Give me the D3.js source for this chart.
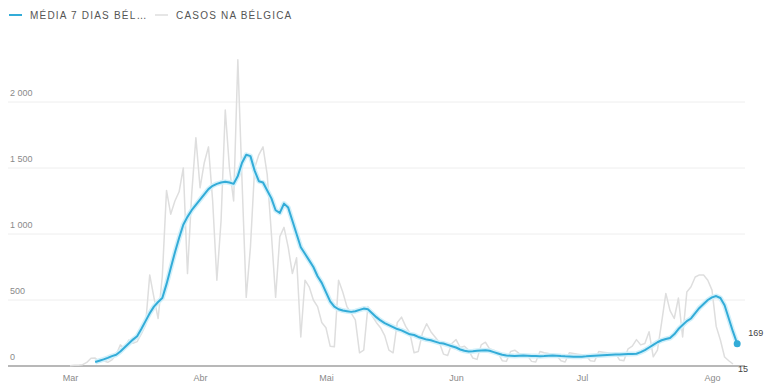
<!DOCTYPE html>
<html>
<head>
<meta charset="utf-8">
<script src="https://cdn.jsdelivr.net/npm/d3@7"></script>
<style>
  body { margin: 0; background: #fff; }
  svg text { font-family: "Liberation Sans", Arial, sans-serif; }
</style>
</head>
<body>
<div id="chart"></div>
<script>
// first day of each series
const CASES_START = "2020-03-01";
const AVG_START = "2020-03-07";

// daily cases in Belgium (Mar 1 .. Aug 7)
const casosBelgica = [
  2, 6, 5, 10, 27, 59, 60,
  31, 39, 28, 47, 85, 160, 133,
  197, 172, 185, 243, 309, 690, 520,
  360, 680, 1330, 1150, 1250, 1320, 1500,
  700, 1300, 1730, 1350, 1540, 1660, 1250,
  650, 1100, 1940, 1500, 1250, 2320, 1400,
  520, 900, 1500, 1600, 1660, 1450, 1000,
  520, 980, 1050, 900, 700, 820, 220,
  650, 600, 500, 450, 330, 290, 150,
  145, 650, 560, 450, 400, 350, 100,
  120, 450, 380, 330, 290, 230, 120,
  100, 330, 370, 300, 250, 100, 110,
  250, 320, 260, 220, 180, 90, 80,
  170, 200, 140, 150, 120, 60, 50,
  160, 180, 130, 120, 100, 40, 35,
  110, 120, 95, 90, 80, 35, 30,
  110, 100, 95, 90, 80, 40, 30,
  100, 95, 90, 85, 80, 40, 35,
  110, 105, 100, 95, 95, 45, 40,
  130, 150, 200, 160, 170, 260, 70,
  120, 330, 550, 420, 360, 515, 220,
  560, 600, 674, 690, 690, 650, 575,
  300, 197, 68, 40, 15
];

// 7-day average (Mar 7 .. Aug 7)
const media7Dias = [
  30, 40, 50, 62, 75, 85, 110,
  140, 170, 200, 225, 280, 340, 400,
  450, 485, 515, 620, 740, 860, 970,
  1070, 1130, 1180, 1220, 1260, 1300, 1340,
  1365, 1380, 1390, 1395, 1390, 1380, 1440,
  1540, 1600, 1590, 1480, 1400, 1390, 1330,
  1270, 1180, 1160, 1230, 1200, 1100, 1000,
  900, 850, 800, 750, 680, 630, 560,
  490, 450, 430, 420, 415, 410, 415,
  425, 435, 430, 400, 370, 345, 325,
  310, 295, 280, 270, 255, 240, 235,
  220, 210, 200, 195, 185, 175, 170,
  160, 150, 140, 125, 115, 110, 112,
  115, 118, 120, 115, 105, 95, 85,
  80, 78, 76, 78, 80, 78, 76,
  75, 74, 75, 78, 80, 78, 75,
  73, 72, 70, 70, 71, 73, 76,
  78, 80, 82, 84, 86, 88, 88,
  89, 90, 91, 93, 105, 120, 140,
  160, 180, 195, 205, 212, 240, 280,
  310, 340, 360, 400, 440, 470, 500,
  520, 530, 515, 460, 360, 260, 169
];

const monthTicks = ["2020-03-01", "2020-04-01", "2020-05-01", "2020-06-01", "2020-07-01", "2020-08-01"];
const monthLabels = ["Mar", "Abr", "Mai", "Jun", "Jul", "Ago"];
const yTicks = [0, 500, 1000, 1500, 2000];
const legendLabels = ["MÉDIA 7 DIAS BÉL…", "CASOS NA BÉLGICA"];

const BLUE = "#33acd8";
const GRAY = "#dedede";
const WIDTH = 769, HEIGHT = 390;

let parse = d3.utcParse("%Y-%m-%d");
function toSeries(start, values) {
  let t0 = parse(start);
  return values.map((v, i) => ({ date: d3.utcDay.offset(t0, i), value: v }));
}
let casos = toSeries(CASES_START, casosBelgica);
let media = toSeries(AVG_START, media7Dias);

let svg = d3.select("#chart").append("svg")
    .attr("width", WIDTH)
    .attr("height", HEIGHT);

// scales
let x = d3.scaleUtc()
    .domain([parse("2020-03-01"), parse("2020-08-01")])
    .range([70, 712]);
let y = d3.scaleLinear().domain([0, 2000]).range([366, 102]);

// gridlines + y labels
let grid = svg.append("g");
grid.selectAll("line")
    .data(yTicks.filter(d => d > 0))
  .enter().append("line")
    .attr("x1", 8).attr("x2", 745)
    .attr("y1", d => y(d)).attr("y2", d => y(d))
    .attr("stroke", "#eeeeee")
    .attr("stroke-width", 1);
grid.selectAll("text")
    .data(yTicks)
  .enter().append("text")
    .attr("x", 10)
    .attr("y", d => y(d) - 6)
    .attr("font-size", 9)
    .attr("fill", "#8a8a8a")
    .text(d => d3.format(",")(d).replace(",", " "));

// x axis
let xAxis = d3.axisBottom(x)
    .tickValues(monthTicks.map(parse))
    .tickFormat((d, i) => monthLabels[i])
    .tickSize(0)
    .tickPadding(9);
let xg = svg.append("g")
    .attr("transform", "translate(0,366)")
    .call(xAxis);
xg.select(".domain").remove();
xg.selectAll("text")
    .attr("font-size", 9)
    .attr("fill", "#8a8a8a")
    .attr("font-family", "Liberation Sans, Arial, sans-serif");
svg.append("line")
    .attr("x1", 8).attr("x2", 745)
    .attr("y1", 366).attr("y2", 366)
    .attr("stroke", "#a0a0a0")
    .attr("stroke-width", 1.5);

// lines
let line = d3.line()
    .x(d => x(d.date))
    .y(d => y(d.value));

svg.append("path")
    .datum(casos)
    .attr("fill", "none")
    .attr("stroke", GRAY)
    .attr("stroke-width", 1.5)
    .attr("stroke-linejoin", "round")
    .attr("d", line);

svg.append("path")
    .datum(media)
    .attr("fill", "none")
    .attr("stroke", "#d2f0fa")
    .attr("stroke-width", 5)
    .attr("stroke-linejoin", "round")
    .attr("d", line);
svg.append("path")
    .datum(media)
    .attr("fill", "none")
    .attr("stroke", BLUE)
    .attr("stroke-width", 2)
    .attr("stroke-linejoin", "round")
    .attr("d", line);

// end markers + labels
let lastAvg = media[media.length - 1];
let lastCase = casos[casos.length - 1];
svg.append("circle")
    .attr("cx", x(lastAvg.date))
    .attr("cy", y(lastAvg.value))
    .attr("r", 3.5)
    .attr("fill", BLUE);
svg.append("text")
    .attr("x", x(lastAvg.date) + 11)
    .attr("y", y(lastAvg.value) - 8)
    .attr("font-size", 9)
    .attr("fill", "#444")
    .text(lastAvg.value);
svg.append("text")
    .attr("x", x(lastCase.date) + 5)
    .attr("y", y(lastCase.value) + 8)
    .attr("font-size", 9)
    .attr("fill", "#444")
    .text(lastCase.value);

// legend
let legend = svg.append("g").attr("transform", "translate(0,15)");
let items = [
  { x: 9, color: BLUE, w: 2, label: legendLabels[0] },
  { x: 155, color: GRAY, w: 1.5, label: legendLabels[1] }
];
items.forEach(it => {
  legend.append("line")
      .attr("x1", it.x).attr("x2", it.x + 13)
      .attr("y1", 0).attr("y2", 0)
      .attr("stroke", it.color)
      .attr("stroke-width", it.w);
  legend.append("text")
      .attr("x", it.x + 21)
      .attr("y", 3.5)
      .attr("font-size", 10)
      .attr("letter-spacing", 1.2)
      .attr("fill", "#555")
      .text(it.label);
});
</script>
</body>
</html>
